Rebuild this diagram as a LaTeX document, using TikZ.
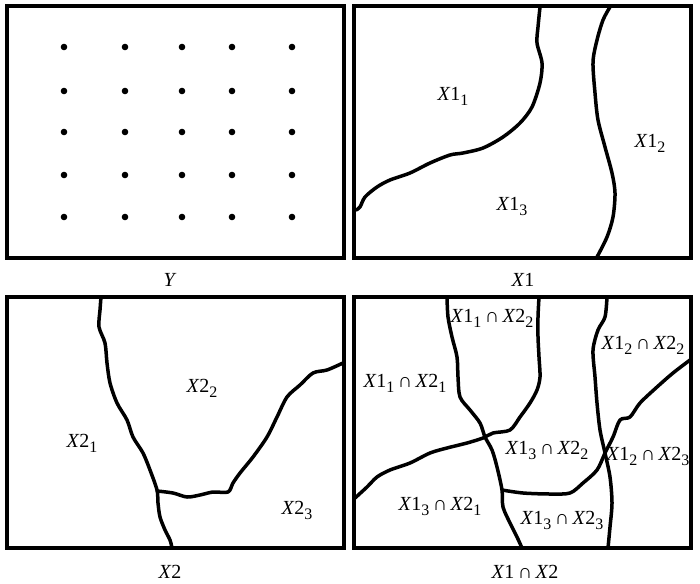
\documentclass[tikz,border=0pt]{standalone}
\usepackage{fontspec}
\setmainfont{Liberation Serif}
\newcommand\sbs[1]{\raisebox{-5pt}{\fontsize{16}{16}\selectfont #1}}
\newcommand\XA[1]{\textit{X}1\sbs{#1}}
\newcommand\XB[1]{\textit{X}2\sbs{#1}}
\newcommand\capp{\,∩\,}
\begin{document}
\begin{tikzpicture}[x=1pt,y=-1pt,
  panel/.style={line width=3.1pt},
  border/.style={line width=3.5pt, line join=round, line cap=round},
  lbl/.style={font=\fontsize{20}{22}\selectfont, inner sep=0pt},
  dotm/.style={fill=black}]
\useasboundingbox (0,0) rectangle (700,583);
% panels
\draw[panel] (7,6) rectangle (344,258);
\draw[panel] (354,6) rectangle (691,258);
\draw[panel] (7,297) rectangle (344,548);
\draw[panel] (354,297) rectangle (691,548);
% dots of Y
\foreach \yy in {47,91,132,175,217}
  \foreach \xx in {64,125,182,232,292}
    \fill[dotm] (\xx,\yy) circle (3.3);
\node[lbl] (ly) at (170,280) {\textit{Y}};
% X1 panel
\draw[border] plot[smooth,tension=0.5] coordinates {(540,7) (538,27) (537,43) (542,63) (540,83) (532,107) (520,123) (503,137) (483,148) (463,153) (450,155) (430,163) (410,173) (390,180) (377,187) (365,197) (360,207) (356,210)};
\draw[border] plot[smooth,tension=0.5] coordinates {(610,7) (603,20) (597,40) (593,62) (595,93) (598,120) (605,147) (612,173) (615,193) (613,217) (607,237) (597,257)};
\node[lbl] (l11) at (453,96) {\XA{1}};
\node[lbl] (l12) at (650,143) {\XA{2}};
\node[lbl] (l13) at (512,206) {\XA{3}};
\node[lbl] (lx1) at (523,280) {\textit{X}1};
% X2 panel
\draw[border] plot[smooth,tension=0.5] coordinates {(101,297) (100,310) (99,327) (105,343) (107,363) (110,383) (117,403) (127,420) (133,437) (143,453) (150,470) (157,490) (158,503) (160,517) (165,530) (170,540) (172,548)};
\draw[border] plot[smooth,tension=0.5] coordinates {(157,491) (173,493) (187,497) (200,495) (213,492) (228,492) (233,483) (240,473) (253,457) (267,437) (277,417) (287,397) (300,385) (313,373) (327,370) (343,363)};
\node[lbl] (l21) at (82,443) {\XB{1}};
\node[lbl] (l22) at (202,388) {\XB{2}};
\node[lbl] (l23) at (297,510) {\XB{3}};
\node[lbl] (lx2) at (170,572) {\textit{X}2};
% X1 cap X2 panel
\draw[border] plot[smooth,tension=0.5] coordinates {(447,297) (448,317) (452,337) (457,357) (458,377) (460,397) (470,410) (480,423) (485,437) (492,450) (497,467) (502,490) (503,507) (510,523) (517,537) (522,548)};
\draw[border] plot[smooth,tension=0.5] coordinates {(539,297) (538,317) (538,337) (539,357) (540,377) (537,390) (530,403) (520,417) (510,430) (493,433) (483,438) (467,443) (447,448) (430,453) (410,463) (390,470) (377,477) (367,487) (355,498)};
\draw[border] plot[smooth,tension=0.5] coordinates {(607,297) (605,317) (598,330) (593,350) (595,377) (597,403) (600,430) (605,453) (610,477) (612,503) (610,527) (608,548)};
\draw[border] plot[smooth,tension=0.5] coordinates {(502,490) (523,493) (550,494) (570,493) (583,483) (597,470) (605,453) (613,437) (620,420) (630,417) (640,403) (657,387) (673,373) (690,360)};
\node[lbl] (a) at (492,318) {\XA{1}\capp\XB{2}};
\node[lbl] (b) at (643,345) {\XA{2}\capp\XB{2}};
\node[lbl] (c) at (405,383) {\XA{1}\capp\XB{1}};
\node[lbl] (d) at (547,450) {\XA{3}\capp\XB{2}};
\node[lbl] (e) at (648,456) {\XA{2}\capp\XB{3}};
\node[lbl] (f) at (440,506) {\XA{3}\capp\XB{1}};
\node[lbl] (g) at (562,520) {\XA{3}\capp\XB{3}};
\node[lbl] (lx12) at (525,572) {\textit{X}1\capp\textit{X}2};
\end{tikzpicture}
\end{document}
